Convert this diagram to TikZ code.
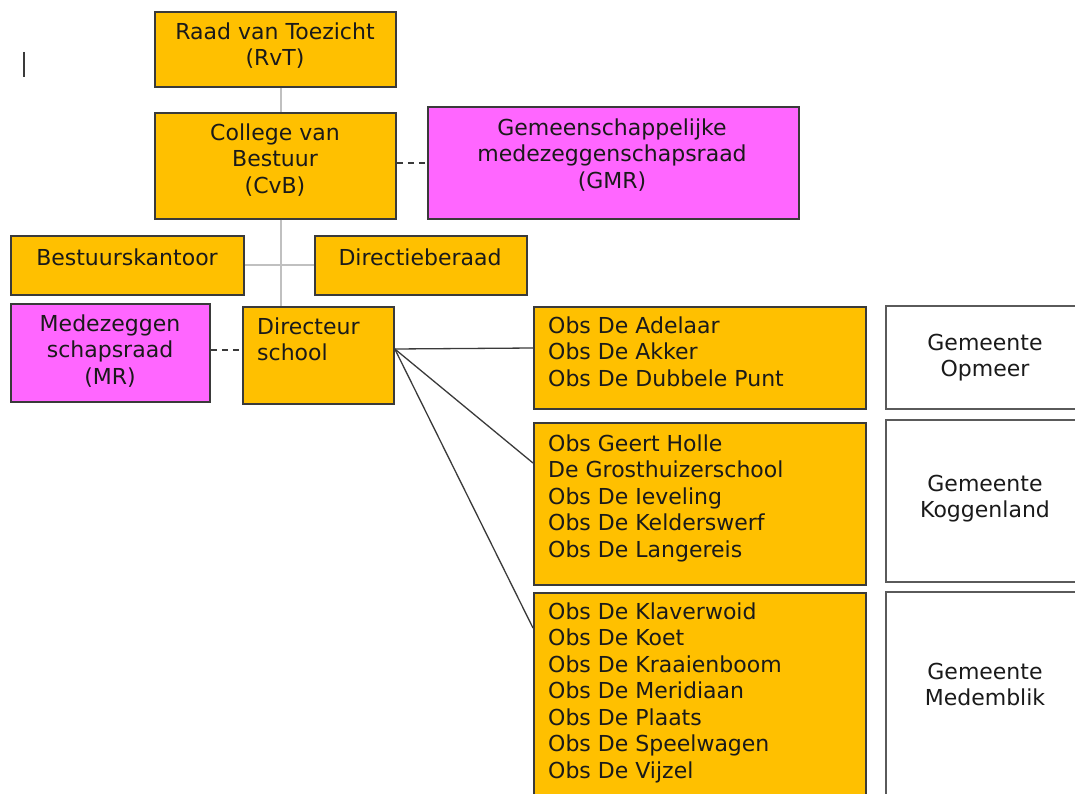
\documentclass[tikz,border=0pt]{standalone}
\usepackage{fontspec}
\setmainfont{DejaVu Sans}
\definecolor{gold}{HTML}{FFC000}
\definecolor{mag}{HTML}{FF66FF}
\definecolor{edgec}{HTML}{3A3A3A}
\definecolor{wedgec}{HTML}{5A5A5A}
\definecolor{lgrey}{HTML}{C0C0C0}
\definecolor{txtc}{HTML}{1A1A1A}
\begin{document}
\begin{tikzpicture}[x=1pt,y=-1pt,
  box/.style={draw=edgec,line width=1.8pt,rectangle,inner sep=0pt,anchor=north west},
  gbox/.style={box,fill=gold},
  mbox/.style={box,fill=mag},
  wbox/.style={box,draw=wedgec,fill=white},
  txt/.style={inner sep=0pt,text=txtc,font=\fontsize{22}{26.5}\selectfont,execute at begin node=\strut},
  ctxt/.style={txt,align=center,anchor=north},
  ltxt/.style={txt,align=left,anchor=north west},
  greycon/.style={draw=lgrey,line width=2pt},
  dashcon/.style={draw=edgec,line width=1.2pt,dash pattern=on 6pt off 5pt},
  solidcon/.style={draw=edgec,line width=1.3pt}]
\useasboundingbox (0,0) rectangle (1075,794);

% stray cursor mark
\draw[edgec,line width=2pt] (24,52) -- (24,77);

% boxes
\node[gbox,minimum width=241pt,minimum height=75pt] (rvt) at (154,11) {};
\node[gbox,minimum width=241pt,minimum height=106pt] (cvb) at (154,112) {};
\node[mbox,minimum width=371pt,minimum height=112pt] (gmr) at (427,106) {};
\node[gbox,minimum width=233pt,minimum height=59pt] (bk) at (10,235) {};
\node[gbox,minimum width=212pt,minimum height=59pt] (db) at (314,235) {};
\node[mbox,minimum width=199pt,minimum height=98pt] (mr) at (10,303) {};
\node[gbox,minimum width=151pt,minimum height=97pt] (dir) at (242,306) {};
\node[gbox,minimum width=332pt,minimum height=102pt] (sop) at (533,306) {};
\node[gbox,minimum width=332pt,minimum height=162pt] (sko) at (533,422) {};
\node[gbox,minimum width=332pt,minimum height=215pt] (sme) at (533,592) {};
\node[wbox,minimum width=200pt,minimum height=103pt] (gop) at (885,305) {};
\node[wbox,minimum width=200pt,minimum height=162pt] (gko) at (885,419) {};
\node[wbox,minimum width=200pt,minimum height=215pt] (gme) at (885,591) {};

% texts
\node[ctxt] (rvtT) at (275,22.5) {Raad van Toezicht\\(RvT)};
\node[ctxt] (cvbT) at (275,123.5) {College van\\Bestuur\\(CvB)};
\node[ctxt] (gmrT) at (612,118.5) {Gemeenschappelijke\\medezeggenschapsraad\\(GMR)};
\node[ctxt] (bkT) at (127,246.5) {Bestuurskantoor};
\node[ctxt] (dbT) at (420,246.5) {Directieberaad};
\node[ctxt] (mrT) at (110,314.5) {Medezeggen\\schapsraad\\(MR)};
\node[ltxt] (dirT) at (257,317.5) {Directeur\\school};
\node[ltxt] (sopT) at (548,316.5) {Obs De Adelaar\\Obs De Akker\\Obs De Dubbele Punt};
\node[ltxt] (skoT) at (548,434.5) {Obs Geert Holle\\De Grosthuizerschool\\Obs De Ieveling\\Obs De Kelderswerf\\Obs De Langereis};
\node[ltxt] (smeT) at (548,602.5) {Obs De Klaverwoid\\Obs De Koet\\Obs De Kraaienboom\\Obs De Meridiaan\\Obs De Plaats\\Obs De Speelwagen\\Obs De Vijzel};
\node[ctxt] (gopT) at (985,333.5) {Gemeente\\Opmeer};
\node[ctxt] (gkoT) at (985,474.5) {Gemeente\\Koggenland};
\node[ctxt] (gmeT) at (985,662.5) {Gemeente\\Medemblik};

% connectors
\draw[greycon] ([xshift=5.5pt]rvt.south) -- ([xshift=5.5pt]cvb.north);
\draw[greycon] ([xshift=5.5pt]cvb.south) -- ([xshift=5.5pt]cvb.south |- dir.north);
\draw[greycon] (bk.east) -- (bk.east -| db.west);
\draw[dashcon] ([yshift=-51pt]cvb.north east) -- ([yshift=-51pt]cvb.north east -| gmr.west);
\draw[dashcon] ([yshift=-47pt]mr.north east) -- ([yshift=-44pt]dir.north west);
\draw[solidcon] ([yshift=-43pt]dir.north east) -- ([yshift=-42pt]sop.north west);
\draw[solidcon] ([yshift=-43pt]dir.north east) -- ([yshift=-41pt]sko.north west);
\draw[solidcon] ([yshift=-43pt]dir.north east) -- ([yshift=-36pt]sme.north west);
\end{tikzpicture}
\end{document}
